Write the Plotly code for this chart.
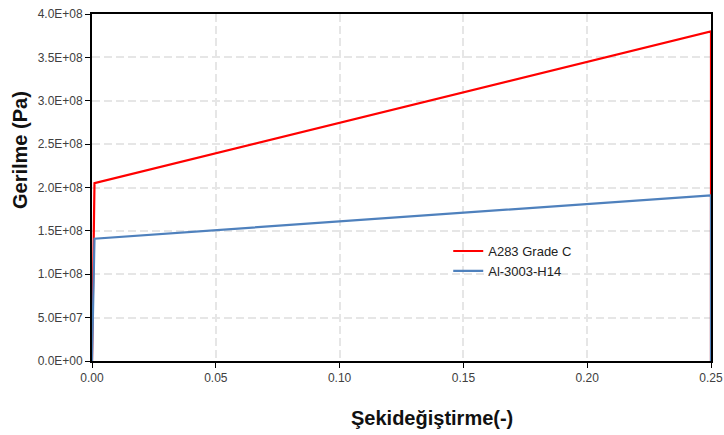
import plotly.graph_objects as go

# Data
a283_strain = [0.0, 0.001, 0.25, 0.25]
a283_stress = [0.0, 2.05e8, 3.80e8, 0.0]
al_strain = [0.0, 0.001, 0.25, 0.25]
al_stress = [0.0, 1.41e8, 1.91e8, 0.0]

y_tickvals = [0, 5e7, 1e8, 1.5e8, 2e8, 2.5e8, 3e8, 3.5e8, 4e8]
y_ticktext = ["0.0E+00", "5.0E+07", "1.0E+08", "1.5E+08", "2.0E+08",
              "2.5E+08", "3.0E+08", "3.5E+08", "4.0E+08"]
x_tickvals = [0, 0.05, 0.10, 0.15, 0.20, 0.25]
x_ticktext = ["0.00", "0.05", "0.10", "0.15", "0.20", "0.25"]

x_title = "Şekideğiştirme(-)"
y_title = "Gerilme (Pa)"

fig = go.Figure()
fig.add_trace(go.Scatter(x=a283_strain, y=a283_stress, mode="lines",
                         name="A283 Grade C", line=dict(color="#ff0000", width=2.2)))
fig.add_trace(go.Scatter(x=al_strain, y=al_stress, mode="lines",
                         name="Al-3003-H14", line=dict(color="#4f81bd", width=2.2)))

font = "Liberation Sans, Arial, sans-serif"
grid = dict(showgrid=True, gridcolor="#e6e6e6", griddash="8px,4px", gridwidth=2,
            showline=True, linecolor="black", linewidth=1.8, mirror=True,
            ticks="outside", ticklen=5, tickcolor="black", tickwidth=1,
            zeroline=False, automargin=False, ticklabeloverflow="allow",
            tickfont=dict(size=12, color="#404040", family=font))

fig.update_layout(
    width=724, height=435, autosize=False,
    margin=dict(l=92, r=13, t=14, b=74),
    paper_bgcolor="white", plot_bgcolor="white",
    font=dict(family=font, size=12, color="#404040"),
    showlegend=True,
    legend=dict(x=0.5755, y=0.288, xanchor="left", yanchor="middle",
                bgcolor="rgba(0,0,0,0)", font=dict(size=13, color="#222"),
                borderwidth=0),
    xaxis=dict(range=[0, 0.25], tickvals=x_tickvals, ticktext=x_ticktext, **grid),
    yaxis=dict(range=[0, 4e8], tickvals=y_tickvals, ticktext=y_ticktext, **grid),
    annotations=[
        dict(text="<b>" + x_title + "</b>", xref="paper", yref="paper",
             x=0.549, y=-0.164, xanchor="center", yanchor="middle", showarrow=False,
             font=dict(size=20, color="#111", family=font)),
        dict(text="<b>" + y_title + "</b>", xref="paper", yref="paper",
             x=-0.1163, y=0.608, xanchor="center", yanchor="middle", showarrow=False,
             textangle=-90, font=dict(size=20, color="#111", family=font)),
    ],
)

# remove the default 8px page margin so the figure fills the window exactly
fig.write_html("out.html",
               config={"displayModeBar": False},
               post_script="document.body.style.margin='0';document.body.style.overflow='hidden';")
